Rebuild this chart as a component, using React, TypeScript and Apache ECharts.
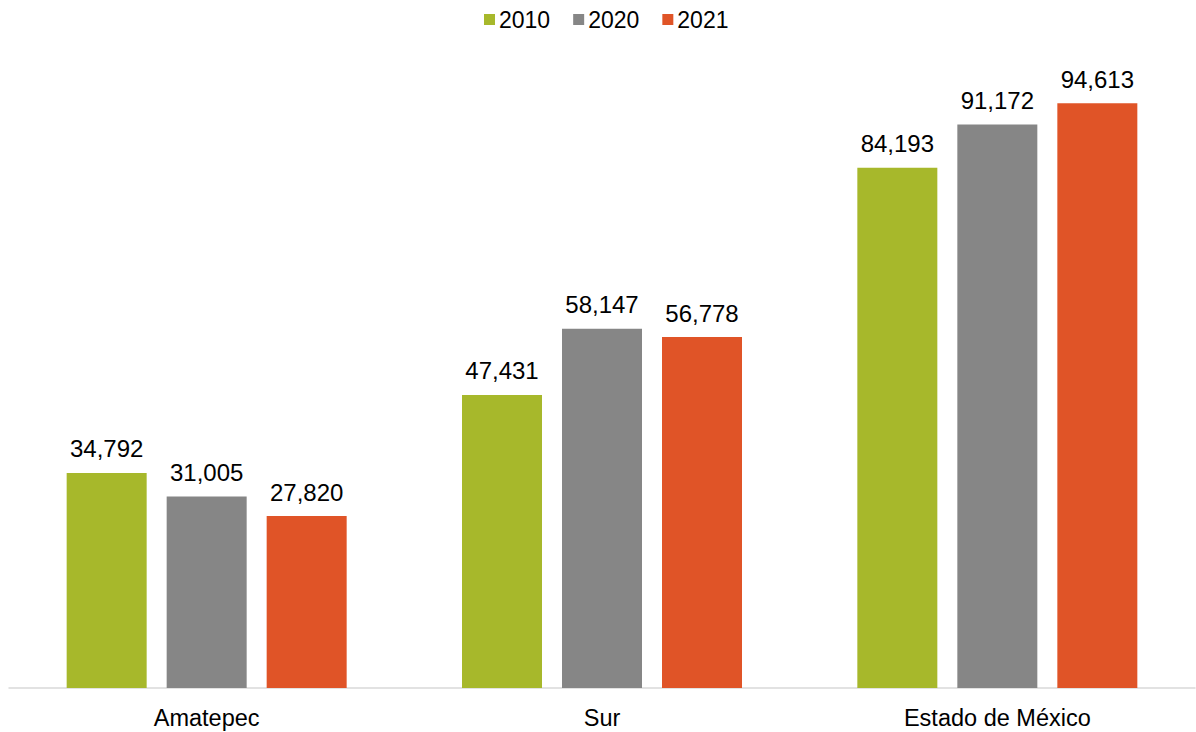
import React, { useEffect, useRef } from "react";
import * as echarts from "echarts";

const categories = ["Amatepec", "Sur", "Estado de México"];
const seriesNames = ["2010", "2020", "2021"];
const values2010 = [34792, 47431, 84193];
const values2020 = [31005, 58147, 91172];
const values2021 = [27820, 56778, 94613];
const colors = ["#A7B82B", "#868686", "#E05427"];

const FONT = "Arial, 'Liberation Sans', sans-serif";

export default function App() {
  const ref = useRef<HTMLDivElement>(null);
  useEffect(() => {
    if (!ref.current) return;
    const chart = echarts.init(ref.current, undefined, { renderer: "svg" });
    const data = [values2010, values2020, values2021];
    chart.setOption({
      animation: false,
      textStyle: { fontFamily: FONT },
      legend: {
        top: 3,
        left: 479,
        padding: 5,
        itemWidth: 11,
        itemHeight: 11,
        itemGap: 23,
        icon: "rect",
        textStyle: { fontSize: 23, color: "#000", fontFamily: FONT, padding: [0, 0, 0, -1] },
        data: seriesNames,
      },
      grid: { left: 9, right: 1, top: 70, bottom: 44, containLabel: false },
      xAxis: {
        type: "category",
        data: categories,
        axisLine: { show: true, lineStyle: { color: "#D9D9D9", width: 1.5 } },
        axisTick: { show: false },
        axisLabel: { fontSize: 23.5, color: "#000", margin: 18, fontFamily: FONT },
      },
      yAxis: {
        type: "value",
        min: 0,
        max: 100000,
        show: false,
        splitLine: { show: false },
      },
      series: seriesNames.map((name, i) => ({
        name,
        type: "bar",
        data: data[i],
        barWidth: 80,
        barGap: "25%",
        itemStyle: { color: colors[i] },
        label: {
          show: true,
          position: "top",
          distance: 12,
          fontSize: 24,
          color: "#000",
          fontFamily: FONT,
          formatter: (p: any) => Number(p.value).toLocaleString("en-US"),
        },
      })),
    });
    return () => chart.dispose();
  }, []);
  return (
    <div
      ref={ref}
      style={{ position: "fixed", left: 0, top: 0, width: 1196, height: 732, background: "#fff" }}
    />
  );
}
